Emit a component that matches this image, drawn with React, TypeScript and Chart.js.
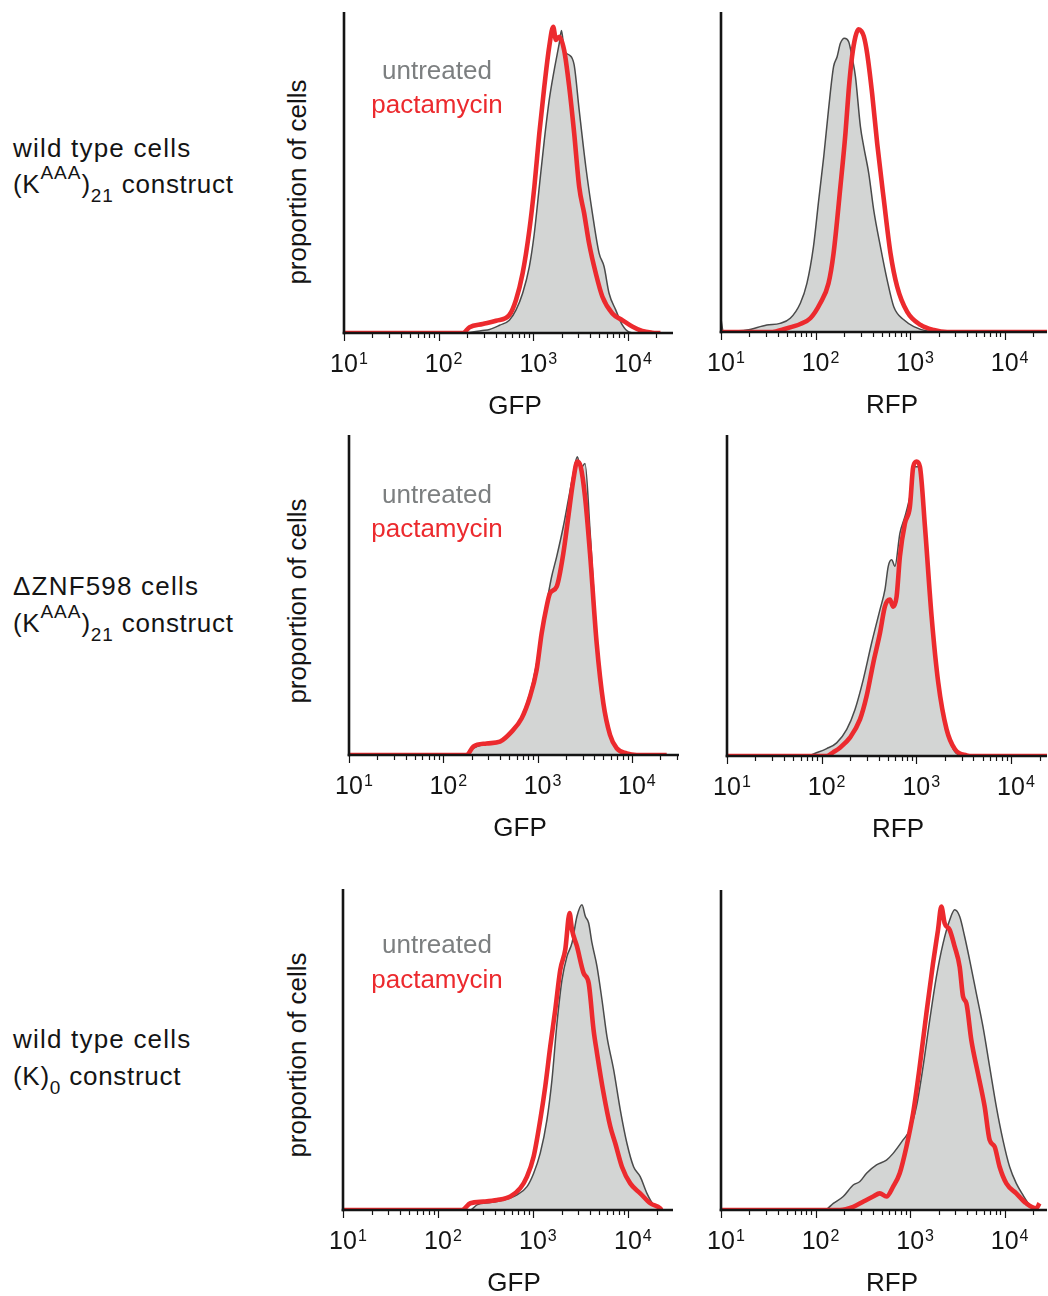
import React, { useEffect, useRef } from 'react';
import { Chart, registerables } from 'chart.js';

Chart.register(...registerables);

const FONT = '"Liberation Sans", Arial, Helvetica, sans-serif';

// ---------- text content ----------
const ROW_TITLES = ['wild type cells', '\u0394ZNF598 cells', 'wild type cells'];
const CONSTRUCT_SUP = ['AAA', 'AAA', ''];
const CONSTRUCT_SUB = ['21', '21', '0'];
const LEGEND_LABELS = ['untreated', 'pactamycin'];
const Y_TITLE = 'proportion of cells';
const CHANNELS = ['GFP', 'RFP'];

// ---------- x axis ticks ----------
const TICK_VALUES = [10, 100, 1000, 10000];
const TICK_EXPONENTS = ['1', '2', '3', '4'];
const MINOR_MULTIPLIERS = [2, 3, 4, 5, 6, 7, 8, 9];

// ---------- histogram data: [fluorescence, % of max count] ----------
// row 1: wild type cells, (K^AAA)21 construct
const wtKaaaGfpUntreated = [[10, 0], [170, 0], [290, 0.8], [345, 1.1], [440, 2.4], [558, 4], [657, 7.2], [771, 12.4], [908, 20.7], [1024, 31], [1157, 45.6], [1306, 60], [1473, 72.6], [1664, 82], [1879, 90.2], [1986, 94.2], [2120, 88], [2394, 86.6], [2700, 83.5], [3050, 69.5], [3585, 51.8], [4210, 37.3], [4950, 24.9], [5590, 20.7], [6310, 12.4], [7420, 7.2], [8710, 2.5], [10230, 0.3], [12000, 0], [25000, 0]];
const wtKaaaGfpPactamycin = [[10, 0], [180, 0], [212, 1.8], [292, 2.8], [404, 3.8], [558, 5.6], [656, 10.3], [771, 18.6], [908, 32], [1026, 45.6], [1157, 62.2], [1306, 76.7], [1473, 89.2], [1622, 95.4], [1734, 91.3], [1879, 92.3], [2120, 88], [2394, 76.7], [2700, 62.3], [3050, 45.6], [3443, 37.3], [3882, 27.9], [4571, 18.6], [5370, 11.3], [6839, 6.1], [8710, 4], [11090, 2], [14130, 0.6], [18030, 0.1], [22000, 0]];
const wtKaaaRfpUntreated = [[10, 4], [10.6, 0], [14, 0.3], [18.7, 0.6], [30.5, 2.2], [42, 2.7], [54, 4.3], [69, 9], [81, 15.2], [95, 26.7], [108, 41.3], [122, 54.8], [137, 69.4], [155, 82.9], [169, 86], [183, 90.2], [202, 91.8], [224, 90.7], [243, 86], [264, 79.8], [298, 64.2], [323, 57.9], [365, 49.6], [412, 38.1], [485, 26.7], [571, 16.3], [671, 7.9], [857, 3.8], [1094, 1.7], [1516, 0.3], [2000, 0], [28000, 0]];
const wtKaaaRfpPactamycin = [[10, 0], [35, 0], [46, 0.9], [69, 2.5], [88, 4.3], [112, 9], [137, 15.2], [155, 24.6], [183, 45.4], [207, 62.1], [224, 75.6], [243, 86], [264, 92.3], [285, 94.6], [305, 94], [323, 92.5], [351, 87.1], [396, 74.6], [448, 59], [527, 41.3], [620, 24.6], [729, 14.2], [931, 6.3], [1290, 2.2], [1783, 0.6], [2472, 0], [28000, 0]];

// row 2: ΔZNF598 cells, (K^AAA)21 construct
const znfKaaaGfpUntreated = [[10, 0], [177, 0], [208, 2.1], [288, 3.4], [399, 4.2], [531, 6.8], [678, 12], [830, 19.3], [977, 28.6], [1104, 39], [1247, 47.4], [1409, 55.7], [1594, 62], [1875, 71.4], [2118, 79.7], [2392, 88], [2637, 93.2], [2865, 89.6], [3185, 91.1], [3596, 70.3], [4234, 37], [4981, 16.2], [5863, 5.7], [7482, 1], [9550, 0], [30000, 0]];
const znfKaaaGfpPactamycin = [[10, 0], [177, 0], [208, 2.6], [288, 3.6], [399, 4.2], [531, 7.3], [678, 11.5], [830, 18.2], [977, 26.6], [1104, 38], [1247, 46.4], [1352, 50.5], [1594, 52.6], [1875, 63], [2118, 74.5], [2392, 85.9], [2637, 91.7], [2865, 90.1], [3185, 80.7], [3596, 63], [4234, 34.9], [4981, 16.2], [5863, 6.3], [6904, 2.1], [8810, 0.5], [11240, 0], [23400, 0]];
const znfKaaaRfpUntreated = [[10, 0], [70, 0], [88, 1], [113, 2.3], [144, 4.1], [184, 8.3], [225, 14.5], [275, 23.8], [337, 35.2], [413, 45.6], [466, 51.8], [505, 59.1], [549, 61.1], [594, 59.1], [671, 69.4], [758, 74.6], [855, 80.8], [966, 90.1], [1048, 90.1], [1137, 83.9], [1284, 65.3], [1507, 37.3], [1774, 19.7], [2087, 8.3], [2455, 2.1], [2886, 0.2], [3500, 0], [24000, 0]];
const znfKaaaRfpPactamycin = [[10, 0], [113, 0], [133, 1.2], [156, 2.6], [199, 5.7], [254, 11.4], [298, 18.6], [351, 29], [413, 38.3], [466, 46.6], [526, 48.7], [570, 46.5], [619, 49.7], [671, 62.2], [758, 72.5], [855, 77.7], [927, 90.1], [1006, 91.7], [1091, 90.1], [1233, 71.5], [1449, 43.5], [1705, 22.8], [2087, 8.3], [2558, 2.1], [3396, 0.2], [4000, 0], [24000, 0]];

// row 3: wild type cells, (K)0 construct
const wtK0GfpUntreated = [[10, 0], [219, 0], [257, 1.6], [355, 2.3], [491, 3.1], [679, 4.7], [865, 7.3], [1015, 11.4], [1193, 17.7], [1403, 28.1], [1584, 40.5], [1790, 58.2], [2020, 71.7], [2280, 79], [2575, 83.2], [2906, 91.5], [3281, 95.1], [3557, 91.5], [3856, 89.4], [4180, 83.2], [4719, 75.9], [5326, 65.5], [6012, 54], [7066, 43.7], [8300, 31.2], [9750, 20.8], [11460, 13.5], [13460, 10.4], [15840, 5.2], [18620, 1.6], [21880, 0.5], [23000, 0]];
const wtK0GfpPactamycin = [[10, 0], [179, 0], [219, 2.1], [302, 2.6], [418, 3.1], [577, 4.2], [735, 6.8], [865, 10.4], [1015, 16.6], [1193, 28.1], [1346, 38.4], [1520, 50.9], [1717, 62.4], [1938, 74.8], [2188, 81.1], [2430, 92.5], [2575, 87.3], [2906, 82.1], [3414, 73.8], [3856, 70.7], [4345, 56.1], [4719, 48.9], [5534, 36.4], [6515, 26], [7350, 20.8], [8642, 13.5], [10570, 8.3], [13460, 5.2], [17180, 2.1], [21880, 0.5], [22500, 0]];
const wtK0RfpUntreated = [[10, 0], [125, 0], [154, 2.1], [196, 4.2], [250, 7.8], [294, 8.9], [346, 11.5], [441, 14.1], [562, 15.6], [661, 17.7], [842, 21.9], [990, 25], [1165, 32.3], [1370, 44.8], [1612, 59.4], [1896, 72.9], [2230, 83.3], [2620, 90.6], [2958, 93.8], [3340, 91.7], [3774, 85.4], [4260, 78.1], [5010, 67.7], [5890, 57.3], [6925, 44.8], [8150, 32.3], [9570, 21.9], [11270, 13.5], [13250, 8.3], [15570, 4.7], [18320, 1.6], [21570, 0.3], [24000, 0]];
const wtK0RfpPactamycin = [[10, 0], [181, 0], [250, 1], [318, 2.6], [406, 4.2], [477, 5.2], [562, 4.2], [661, 7.3], [776, 11.5], [914, 19.8], [1074, 30.2], [1262, 44.8], [1486, 61.5], [1746, 77.1], [1971, 87.5], [2138, 94.8], [2317, 89.6], [2620, 87.5], [2958, 82.3], [3340, 76], [3624, 66.7], [3933, 64.6], [4436, 53.1], [5213, 42.7], [6138, 32.3], [6925, 21.9], [7818, 19.8], [8830, 13.5], [10400, 8.3], [13250, 5.2], [16900, 2.1], [21570, 0.5], [23300, 2.1]];

// ---------- colours ----------
const RED = '#ec2a2e';
const GRAY_LINE = '#4a4a4a';
const GRAY_FILL = '#d3d5d4';
const LEGEND_GRAY = '#7c7f80';
const INK = '#141414';

// ---------- layout (plot-area pixel boxes) ----------
type Panel = {
  channel: string; left: number; right: number; top: number; bottom: number; xMax: number;
  untreated: number[][]; pactamycin: number[][];
};
const PANELS: Panel[] = [
  { channel: CHANNELS[0], left: 344, right: 673, top: 12, bottom: 333, xMax: 29900, untreated: wtKaaaGfpUntreated, pactamycin: wtKaaaGfpPactamycin },
  { channel: CHANNELS[1], left: 721, right: 1047, top: 12, bottom: 332, xMax: 28000, untreated: wtKaaaRfpUntreated, pactamycin: wtKaaaRfpPactamycin },
  { channel: CHANNELS[0], left: 349, right: 679, top: 435, bottom: 755, xMax: 31600, untreated: znfKaaaGfpUntreated, pactamycin: znfKaaaGfpPactamycin },
  { channel: CHANNELS[1], left: 727, right: 1047, top: 435, bottom: 756, xMax: 24000, untreated: znfKaaaRfpUntreated, pactamycin: znfKaaaRfpPactamycin },
  { channel: CHANNELS[0], left: 343, right: 673, top: 889, bottom: 1210, xMax: 29800, untreated: wtK0GfpUntreated, pactamycin: wtK0GfpPactamycin },
  { channel: CHANNELS[1], left: 721, right: 1047, top: 890, bottom: 1210, xMax: 28000, untreated: wtK0RfpUntreated, pactamycin: wtK0RfpPactamycin },
];

const ROW_BASE1 = [157, 595, 1048];
const ROW_BASE2 = [193, 632, 1085];
const LEGEND_BASE = [[79, 113], [503, 537], [953, 988]];
const YTITLE_CENTER = [182, 601, 1055];

const PAD_L = 30;
const PAD_T = 4;
const PAD_B = 84;

function axesPlugin(title: string) {
  return {
    id: 'facsAxes',
    afterDatasetsDraw(chart: any) {
      const { ctx, chartArea } = chart;
      const { left, right, top, bottom } = chartArea;
      const x = chart.scales.x;
      ctx.save();
      ctx.strokeStyle = INK;
      ctx.lineCap = 'butt';
      // y axis
      ctx.lineWidth = 2.6;
      ctx.beginPath();
      ctx.moveTo(left, top);
      ctx.lineTo(left, bottom + 1.2);
      ctx.stroke();
      // x axis
      ctx.lineWidth = 2.4;
      ctx.beginPath();
      ctx.moveTo(left - 1.3, bottom);
      ctx.lineTo(right, bottom);
      ctx.stroke();
      // tick marks
      ctx.lineWidth = 1.2;
      for (const dec of TICK_VALUES) {
        const mults = [1, ...MINOR_MULTIPLIERS];
        for (const m of mults) {
          const v = dec * m;
          if (v > x.max) break;
          const px = Math.round(x.getPixelForValue(v)) + 0.5;
          const len = m === 1 ? 8 : 5;
          ctx.beginPath();
          ctx.moveTo(px, bottom);
          ctx.lineTo(px, bottom + len);
          ctx.stroke();
        }
      }
      // tick labels 10^n
      ctx.fillStyle = INK;
      ctx.textBaseline = 'alphabetic';
      ctx.textAlign = 'left';
      TICK_VALUES.forEach((v, i) => {
        const px = x.getPixelForValue(v);
        ctx.font = `25px ${FONT}`;
        const w = ctx.measureText('10').width;
        ctx.fillText('10', px - w / 2, bottom + 39);
        ctx.font = `16px ${FONT}`;
        ctx.fillText(TICK_EXPONENTS[i], px + w / 2 + 1, bottom + 31);
      });
      // axis title
      ctx.font = `26px ${FONT}`;
      ctx.textAlign = 'center';
      ctx.fillText(title, left + 171, bottom + 81);
      ctx.restore();
    },
  };
}

function HistPanel({ p }: { p: Panel }) {
  const ref = useRef<HTMLCanvasElement>(null);
  const padR = Math.min(20, 1048 - p.right);
  const w = PAD_L + (p.right - p.left) + padR;
  const h = PAD_T + (p.bottom - p.top) + PAD_B;
  useEffect(() => {
    const chart = new Chart(ref.current as HTMLCanvasElement, {
      type: 'line',
      data: {
        datasets: [
          {
            label: LEGEND_LABELS[1],
            data: p.pactamycin.map(([x, y]) => ({ x, y })),
            borderColor: RED,
            borderWidth: 4.6,
            fill: false,
            pointRadius: 0,
            cubicInterpolationMode: 'monotone',
            borderJoinStyle: 'round',
            order: 0,
          },
          {
            label: LEGEND_LABELS[0],
            data: p.untreated.map(([x, y]) => ({ x, y })),
            borderColor: GRAY_LINE,
            borderWidth: 1.5,
            backgroundColor: GRAY_FILL,
            fill: 'origin',
            pointRadius: 0,
            cubicInterpolationMode: 'monotone',
            order: 1,
          },
        ],
      } as any,
      options: {
        animation: false,
        responsive: false,
        devicePixelRatio: 1,
        layout: { padding: { left: PAD_L, right: padR, top: PAD_T, bottom: PAD_B } },
        scales: {
          x: { type: 'logarithmic', min: 10, max: p.xMax, display: false },
          y: { type: 'linear', min: 0, max: 100, display: false },
        },
        plugins: { legend: { display: false }, tooltip: { enabled: false } },
      } as any,
      plugins: [axesPlugin(p.channel)],
    });
    return () => chart.destroy();
  }, []);
  return (
    <canvas
      ref={ref}
      width={w}
      height={h}
      style={{ position: 'absolute', left: p.left - PAD_L, top: p.top - PAD_T, width: w, height: h }}
    />
  );
}

const textBase: React.CSSProperties = {
  position: 'absolute',
  fontFamily: FONT,
  fontSize: 26,
  lineHeight: '26px',
  whiteSpace: 'nowrap',
  margin: 0,
};

const smallScript: React.CSSProperties = { fontSize: 19, position: 'relative', letterSpacing: '1px' };

export default function App() {
  return (
    <div style={{ position: 'absolute', left: 0, top: 0, width: 1048, height: 1296, overflow: 'hidden', background: '#fff' }}>
      {PANELS.map((p, i) => (
        <HistPanel key={i} p={p} />
      ))}
      {ROW_TITLES.map((t, r) => (
        <React.Fragment key={`row${r}`}>
          <div style={{ ...textBase, left: 13, top: ROW_BASE1[r] - 22, color: INK, letterSpacing: '1.2px' }}>{t}</div>
          <div style={{ ...textBase, left: 13, top: ROW_BASE2[r] - 22, color: INK, letterSpacing: '0.7px' }}>
            (K
            {CONSTRUCT_SUP[r] ? <span style={{ ...smallScript, top: -14 }}>{CONSTRUCT_SUP[r]}</span> : null}
            )
            <span style={{ ...smallScript, top: 9 }}>{CONSTRUCT_SUB[r]}</span> construct
          </div>
          <div
            style={{
              ...textBase,
              left: 297,
              top: YTITLE_CENTER[r],
              color: INK,
              transform: 'translate(-50%, -50%) rotate(-90deg)',
            }}
          >
            {Y_TITLE}
          </div>
          <div style={{ ...textBase, left: 437, top: LEGEND_BASE[r][0] - 22, color: LEGEND_GRAY, transform: 'translateX(-50%)' }}>
            {LEGEND_LABELS[0]}
          </div>
          <div style={{ ...textBase, left: 437, top: LEGEND_BASE[r][1] - 22, color: RED, transform: 'translateX(-50%)' }}>
            {LEGEND_LABELS[1]}
          </div>
        </React.Fragment>
      ))}
    </div>
  );
}
